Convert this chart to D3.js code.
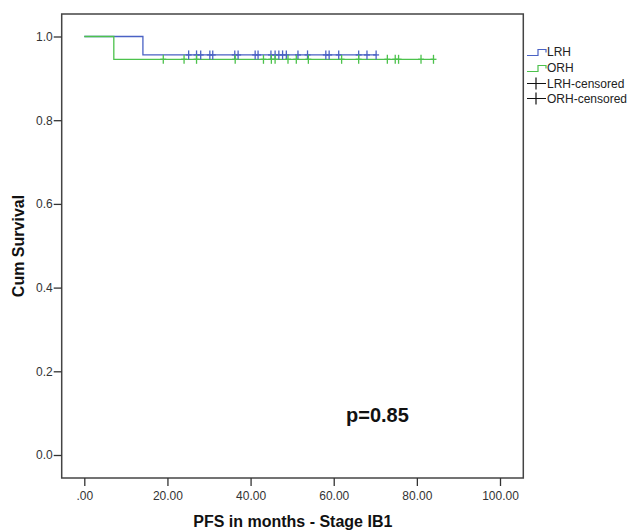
<!DOCTYPE html>
<html>
<head>
<meta charset="utf-8">
<script src="https://cdn.jsdelivr.net/npm/d3@7"></script>
<style>
  body { margin: 0; background: #fff; }
  svg { font-family: "Liberation Sans", Arial, sans-serif; }
</style>
</head>
<body>
<svg id="chart" width="634" height="530"></svg>
<script>
// survival steps (time in months, cumulative survival)
var lrhSteps = [[0, 1.0], [14.1, 0.956], [70.2, 0.956]];
var orhSteps = [[0, 1.0], [7.1, 0.9455], [84.0, 0.9455]];

// censored times
var lrhCensored = [25.1, 27.0, 28.0, 30.2, 30.9, 36.2, 37.0, 41.1, 41.8, 44.9, 45.9, 46.8,
  47.7, 48.6, 51.4, 53.7, 58.1, 58.9, 61.2, 66.0, 68.0, 70.2];
var orhCensored = [19.0, 24.0, 27.0, 36.3, 43.1, 45.0, 45.9, 49.0, 51.0, 53.9, 61.9, 66.0,
  72.9, 74.8, 75.6, 81.0, 84.0];

var xTicks = [0, 20, 40, 60, 80, 100];
var yTicks = [0, 0.2, 0.4, 0.6, 0.8, 1.0];
var legendItems = ['LRH', 'ORH', 'LRH-censored', 'ORH-censored'];

var blue = '#4a62c4', green = '#4cc24c';

var svg = d3.select('#chart');
var x = d3.scaleLinear().domain([0, 100]).range([84.3, 500]);
var y = d3.scaleLinear().domain([0, 1]).range([455, 36.5]);

// frame
svg.append('rect')
  .attr('x', 61.7).attr('y', 14).attr('width', 461.6).attr('height', 464)
  .attr('fill', 'none').attr('stroke', '#444').attr('stroke-width', 1.5);

// x axis
var xAxis = svg.append('g').attr('transform', 'translate(0,478)')
  .call(d3.axisBottom(x).tickValues(xTicks).tickSize(8).tickSizeOuter(0)
    .tickFormat((d) => d === 0 ? '.00' : d3.format('.2f')(d)));
xAxis.select('.domain').remove();
xAxis.selectAll('line').attr('stroke', '#333').attr('stroke-width', 1.3);
xAxis.selectAll('text').attr('font-size', 12).attr('fill', '#333').attr('dy', '0.95em');

// y axis
var yAxis = svg.append('g').attr('transform', 'translate(61.7,0)')
  .call(d3.axisLeft(y).tickValues(yTicks).tickSize(8).tickSizeOuter(0).tickPadding(1)
    .tickFormat(d3.format('.1f')));
yAxis.select('.domain').remove();
yAxis.selectAll('line').attr('stroke', '#333').attr('stroke-width', 1.3);
yAxis.selectAll('text').attr('font-size', 12).attr('fill', '#333');
xAxis.attr('font-family', null);
yAxis.attr('font-family', null);

// axis titles
svg.append('text')
  .attr('x', 292.8).attr('y', 527).attr('text-anchor', 'middle')
  .attr('font-size', 16).attr('font-weight', 'bold').attr('fill', '#111')
  .text('PFS in months - Stage IB1');
svg.append('text')
  .attr('transform', 'translate(24,246) rotate(-90)').attr('text-anchor', 'middle')
  .attr('font-size', 16).attr('font-weight', 'bold').attr('fill', '#111')
  .text('Cum Survival');

// curves
var line = d3.line().x((d) => x(d[0])).y((d) => y(d[1])).curve(d3.curveStepAfter);

function drawCurve(steps, color) {
  svg.append('path').datum(steps)
    .attr('d', line).attr('fill', 'none')
    .attr('stroke', color).attr('stroke-width', 1.3);
}

function survivalAt(steps, t) {
  var s = steps[0][1];
  steps.forEach((d) => { if (d[0] <= t) s = d[1]; });
  return s;
}

function drawCensored(steps, times, color) {
  var g = svg.append('g').attr('stroke', color).attr('stroke-width', 1.3);
  g.selectAll('line.v').data(times).enter().append('line').attr('class', 'v')
    .attr('x1', (d) => x(d)).attr('x2', (d) => x(d))
    .attr('y1', (d) => y(survivalAt(steps, d)) - 4.5)
    .attr('y2', (d) => y(survivalAt(steps, d)) + 4.5);
  g.selectAll('line.h').data(times).enter().append('line').attr('class', 'h')
    .attr('x1', (d) => x(d) - 3).attr('x2', (d) => x(d) + 3)
    .attr('y1', (d) => y(survivalAt(steps, d)))
    .attr('y2', (d) => y(survivalAt(steps, d)));
}

drawCurve(lrhSteps, blue);
drawCurve(orhSteps, green);
drawCensored(lrhSteps, lrhCensored, blue);
drawCensored(orhSteps, orhCensored, green);

// p value
svg.append('text')
  .attr('x', 346).attr('y', 422)
  .attr('font-size', 20).attr('font-weight', 'bold').attr('fill', '#111')
  .text('p=0.85');

// legend
var legend = svg.append('g');
var legendY = [51.5, 67.5, 83.5, 98.5];
var legendColors = [blue, green, '#111', '#111'];
legendItems.forEach(function(name, i) {
  var cy = legendY[i];
  if (i < 2) {
    legend.append('path')
      .attr('d', 'M527,' + (cy + 4) + 'H538V' + (cy - 2) + 'H546V' + (cy + 1))
      .attr('fill', 'none').attr('stroke', legendColors[i]).attr('stroke-width', 1.2);
  } else {
    legend.append('path')
      .attr('d', 'M527,' + cy + 'H546M536,' + (cy - 6) + 'V' + (cy + 6))
      .attr('fill', 'none').attr('stroke', legendColors[i]).attr('stroke-width', 1.2);
  }
  legend.append('text')
    .attr('x', 547).attr('y', cy + 4)
    .attr('font-size', 12).attr('fill', '#222')
    .text(name);
});
</script>
</body>
</html>
